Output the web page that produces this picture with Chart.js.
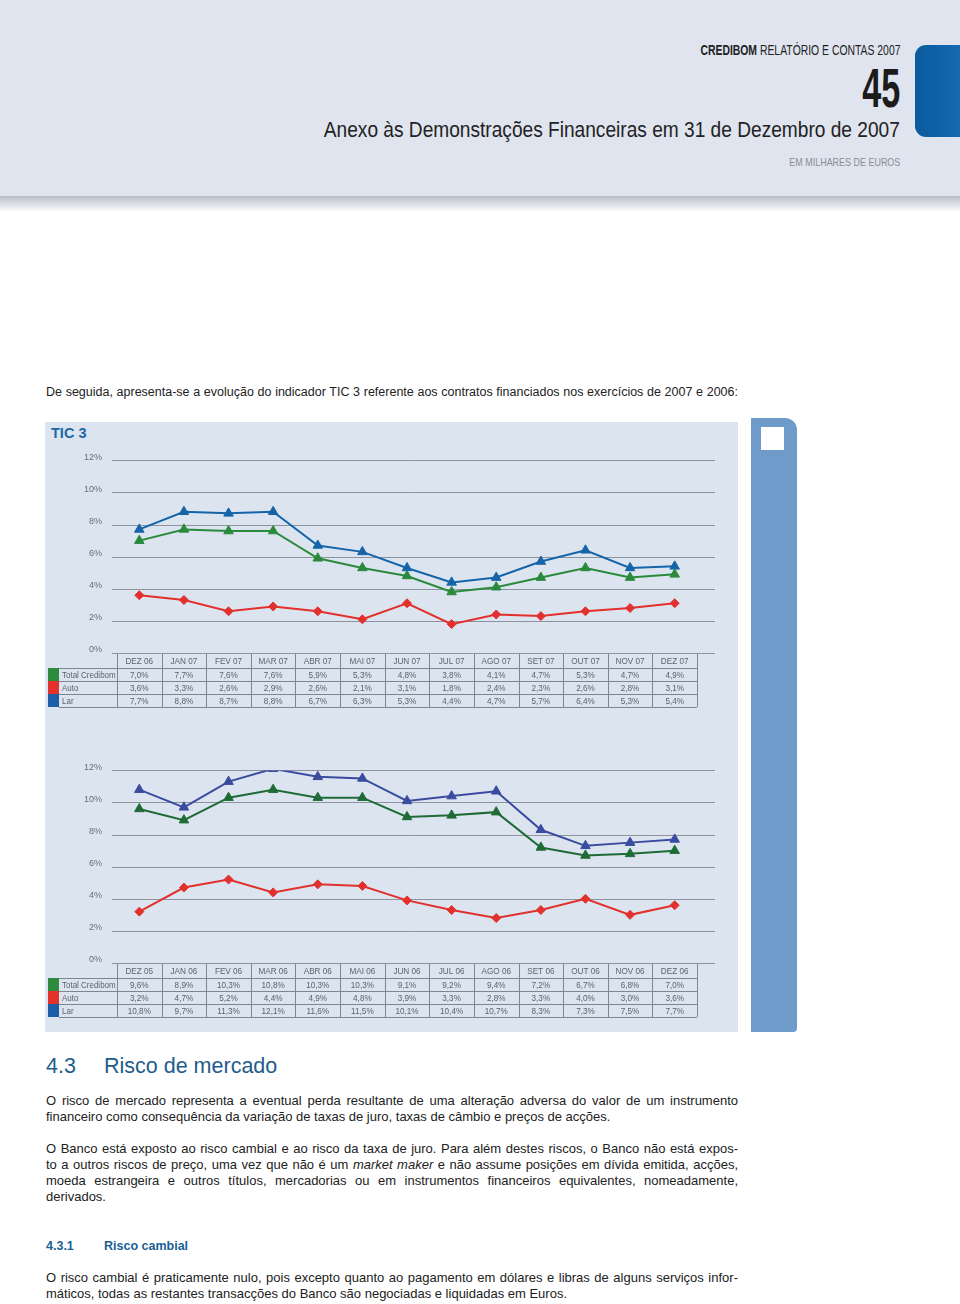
<!DOCTYPE html>
<html>
<head>
<meta charset="utf-8">
<script src="https://cdn.jsdelivr.net/npm/chart.js@4.4.1/dist/chart.umd.min.js"></script>
<style>
  body { margin: 0; width: 960px; height: 1304px; position: relative; background: #fff; overflow: hidden;
         font-family: "Liberation Sans", Arial, sans-serif; color: #222; }
  .abs { position: absolute; }
  .fit { white-space: nowrap; transform-origin: right center; }
  #band { left: 0; top: 0; width: 960px; height: 196px; background: #dfe4ef; }
  #shade { left: 0; top: 196px; width: 960px; height: 16px; background: linear-gradient(#b9bec8, #ffffff); }
  #tab { left: 915px; top: 45px; width: 45px; height: 92px; border-radius: 11px 0 0 11px;
         background: linear-gradient(90deg, #0b5a9e, #1469b0); }
  .line { position: absolute; left: 46px; width: 692px; font-size: 13px; line-height: 16px; white-space: nowrap; }
  .just { text-align: justify; text-align-last: justify; }
  #panel { left: 45px; top: 422px; width: 693px; height: 610px; background: #dce4f0; }
  #sidebar { left: 751px; top: 418px; width: 46px; height: 614px; background: #6e9bca; border-radius: 0 12px 4px 0; }
  #sidebox { left: 761px; top: 427px; width: 23px; height: 23px; background: #fff; }
  canvas { position: absolute; }
</style>
</head>
<body>
<div id="band" class="abs"></div>
<div id="shade" class="abs"></div>
<div id="tab" class="abs"></div>

<div class="abs fit" data-w="200" style="right:60px; top:42px; font-size:14px; line-height:16px; color:#222;"><b>CREDIBOM</b> RELATÓRIO E CONTAS 2007</div>
<div class="abs fit" data-w="38" style="right:60px; top:58px; font-size:56px; line-height:60px; font-weight:bold; color:#1b1b1b;">45</div>
<div class="abs fit" data-w="576" style="right:60px; top:117px; font-size:22px; line-height:26px; color:#222;">Anexo às Demonstrações Financeiras em 31 de Dezembro de 2007</div>
<div class="abs fit" data-w="111" style="right:60px; top:155px; font-size:11px; line-height:14px; color:#8a8d94;">EM MILHARES DE EUROS</div>

<div class="line just" style="top:384px; font-size:12.5px;">De seguida, apresenta-se a evolução do indicador TIC 3 referente aos contratos financiados nos exercícios de 2007 e 2006:</div>

<div id="panel" class="abs"></div>
<div id="sidebar" class="abs"></div>
<div id="sidebox" class="abs"></div>
<div class="abs" style="left:51px; top:424px; font-size:14.5px; line-height:18px; font-weight:bold; color:#1d67a6;">TIC 3</div>

<canvas id="chart2007" width="693" height="272" style="left:45px; top:440px;"></canvas>
<canvas id="chart2006" width="693" height="272" style="left:45px; top:750px;"></canvas>

<div class="abs" style="left:46px; top:1052px; font-size:21.5px; line-height:28px; color:#1f5d8c;">4.3</div>
<div class="abs" style="left:104px; top:1052px; font-size:21.5px; line-height:28px; color:#1f5d8c;">Risco de mercado</div>

<div class="line just" style="top:1093px;">O risco de mercado representa a eventual perda resultante de uma alteração adversa do valor de um instrumento</div>
<div class="line" style="top:1109px;">financeiro como consequência da variação de taxas de juro, taxas de câmbio e preços de acções.</div>

<div class="line just" style="top:1141px;">O Banco está exposto ao risco cambial e ao risco da taxa de juro. Para além destes riscos, o Banco não está expos-</div>
<div class="line just" style="top:1157px;">to a outros riscos de preço, uma vez que não é um <i>market maker</i> e não assume posições em dívida emitida, acções,</div>
<div class="line just" style="top:1173px;">moeda estrangeira e outros títulos, mercadorias ou em instrumentos financeiros equivalentes, nomeadamente,</div>
<div class="line" style="top:1189px;">derivados.</div>

<div class="abs" style="left:46px; top:1238px; font-size:12.5px; line-height:16px; font-weight:bold; color:#1a5f95;">4.3.1</div>
<div class="abs" style="left:104px; top:1238px; font-size:12.5px; line-height:16px; font-weight:bold; color:#1a5f95;">Risco cambial</div>

<div class="line just" style="top:1270px;">O risco cambial é praticamente nulo, pois excepto quanto ao pagamento em dólares e libras de alguns serviços infor-</div>
<div class="line" style="top:1286px;">máticos, todas as restantes transacções do Banco são negociadas e liquidadas em Euros.</div>

<script>
  // TIC 3 - 2007
  const labels2007 = ['DEZ 06', 'JAN 07', 'FEV 07', 'MAR 07', 'ABR 07', 'MAI 07', 'JUN 07', 'JUL 07', 'AGO 07', 'SET 07', 'OUT 07', 'NOV 07', 'DEZ 07'];
  const total2007 = [7.0, 7.7, 7.6, 7.6, 5.9, 5.3, 4.8, 3.8, 4.1, 4.7, 5.3, 4.7, 4.9];
  const auto2007 = [3.6, 3.3, 2.6, 2.9, 2.6, 2.1, 3.1, 1.8, 2.4, 2.3, 2.6, 2.8, 3.1];
  const lar2007 = [7.7, 8.8, 8.7, 8.8, 6.7, 6.3, 5.3, 4.4, 4.7, 5.7, 6.4, 5.3, 5.4];

  // TIC 3 - 2006
  const labels2006 = ['DEZ 05', 'JAN 06', 'FEV 06', 'MAR 06', 'ABR 06', 'MAI 06', 'JUN 06', 'JUL 06', 'AGO 06', 'SET 06', 'OUT 06', 'NOV 06', 'DEZ 06'];
  const total2006 = [9.6, 8.9, 10.3, 10.8, 10.3, 10.3, 9.1, 9.2, 9.4, 7.2, 6.7, 6.8, 7.0];
  const auto2006 = [3.2, 4.7, 5.2, 4.4, 4.9, 4.8, 3.9, 3.3, 2.8, 3.3, 4.0, 3.0, 3.6];
  const lar2006 = [10.8, 9.7, 11.3, 12.1, 11.6, 11.5, 10.1, 10.4, 10.7, 8.3, 7.3, 7.5, 7.7];

  const seriesNames = ['Total Credibom', 'Auto', 'Lar'];
  const swatchColors = ['#2e8b3e', '#e3322c', '#1c5fa6'];

  const FONT = '"Liberation Sans", Arial, sans-serif';

  const fmt = v => v.toFixed(1).replace('.', ',') + '%';

  // squeeze header lines to the width of the condensed original
  document.querySelectorAll('.fit').forEach(el => {
    const w = el.getBoundingClientRect().width;
    el.style.transform = 'scaleX(' + (el.dataset.w / w) + ')';
  });

  // narrow text on the canvas (the page font has no condensed cut)
  function narrowText(ctx, text, x, y, align, k) {
    ctx.save();
    ctx.translate(x, y);
    ctx.scale(k, 1);
    ctx.textAlign = align;
    ctx.fillText(text, 0, 0);
    ctx.restore();
  }

  // horizontal guide lines, a bit wider than the plot area
  const gridPlugin = {
    id: 'gridLines',
    beforeDatasetsDraw(chart) {
      const { ctx, chartArea, scales: { y } } = chart;
      ctx.save();
      ctx.strokeStyle = '#8d939e';
      ctx.lineWidth = 1;
      y.ticks.forEach(t => {
        const py = Math.round(y.getPixelForValue(t.value)) + 0.5;
        ctx.beginPath();
        ctx.moveTo(chartArea.left - 5, py);
        ctx.lineTo(chartArea.right + 18, py);
        ctx.stroke();
      });
      ctx.restore();
    }
  };

  // data table under the plot, columns follow the x scale
  const tablePlugin = {
    id: 'dataTable',
    afterDraw(chart) {
      const { ctx, chartArea, scales: { x } } = chart;
      const labels = chart.data.labels;
      const sets = chart.data.datasets;
      const band = (chartArea.right - chartArea.left) / labels.length;
      const top = Math.round(chartArea.bottom) + 0.5;
      const headH = 14.5, rowH = 13;
      const bottom = top + headH + rowH * sets.length;
      const labelLeft = 14;

      ctx.save();
      sets.forEach((ds, r) => {
        ctx.fillStyle = ds.swatch;
        ctx.fillRect(3, top + headH + r * rowH, labelLeft - 3, rowH);
      });

      ctx.strokeStyle = '#7f8692';
      ctx.lineWidth = 1;
      ctx.beginPath();
      for (let r = 0; r <= sets.length; r++) {
        const py = Math.round(top + headH + r * rowH) + 0.5;
        ctx.moveTo(labelLeft, py);
        ctx.lineTo(chartArea.right, py);
      }
      for (let i = 0; i <= labels.length; i++) {
        const px = Math.round(chartArea.left + i * band) + 0.5;
        ctx.moveTo(px, top);
        ctx.lineTo(px, bottom);
      }
      ctx.stroke();

      ctx.fillStyle = '#5e636c';
      ctx.font = '9.5px ' + FONT;
      ctx.textBaseline = 'middle';
      labels.forEach((lab, i) => {
        narrowText(ctx, lab, x.getPixelForValue(i), top + headH / 2 + 0.5, 'center', 0.86);
      });
      sets.forEach((ds, r) => {
        const cy = top + headH + r * rowH + rowH / 2 + 0.5;
        narrowText(ctx, ds.label, labelLeft + 3, cy, 'left', 0.84);
        ds.data.forEach((v, i) => narrowText(ctx, fmt(v), x.getPixelForValue(i), cy, 'center', 0.86));
      });
      ctx.restore();
    }
  };

  function makeChart(id, labels, total, auto, lar, colors) {
    const values = [total, auto, lar];
    const styles = ['triangle', 'rectRot', 'triangle'];
    const datasets = values.map((data, k) => ({
      label: seriesNames[k],
      data: data,
      swatch: swatchColors[k],
      borderColor: colors[k],
      backgroundColor: colors[k],
      pointBackgroundColor: colors[k],
      pointBorderColor: colors[k],
      pointStyle: styles[k],
      pointRadius: k === 1 ? 4.5 : 5.5,
      pointBorderWidth: 1,
      borderWidth: 2,
      tension: 0,
      fill: false
    }));

    return new Chart(document.getElementById(id), {
      type: 'line',
      data: { labels: labels, datasets: datasets },
      options: {
        responsive: false,
        animation: false,
        layout: { padding: { top: 17, right: 41, bottom: 59, left: 0 } },
        plugins: { legend: { display: false }, tooltip: { enabled: false } },
        scales: {
          x: { display: false, offset: true },
          y: {
            min: 0,
            max: 12,
            ticks: {
              stepSize: 2,
              padding: 15,
              labelOffset: -3,
              color: '#6b6f78',
              font: { size: 9, family: FONT },
              callback: v => v + '%'
            },
            grid: { display: false, drawTicks: false },
            border: { display: false },
            afterFit: s => { s.width = 72; }
          }
        }
      },
      plugins: [gridPlugin, tablePlugin]
    });
  }

  makeChart('chart2007', labels2007, total2007, auto2007, lar2007, ['#2a8a3c', '#e2312d', '#1664a8']);
  makeChart('chart2006', labels2006, total2006, auto2006, lar2006, ['#1f6b35', '#e2312d', '#3a4ba0']);
</script>
</body>
</html>
